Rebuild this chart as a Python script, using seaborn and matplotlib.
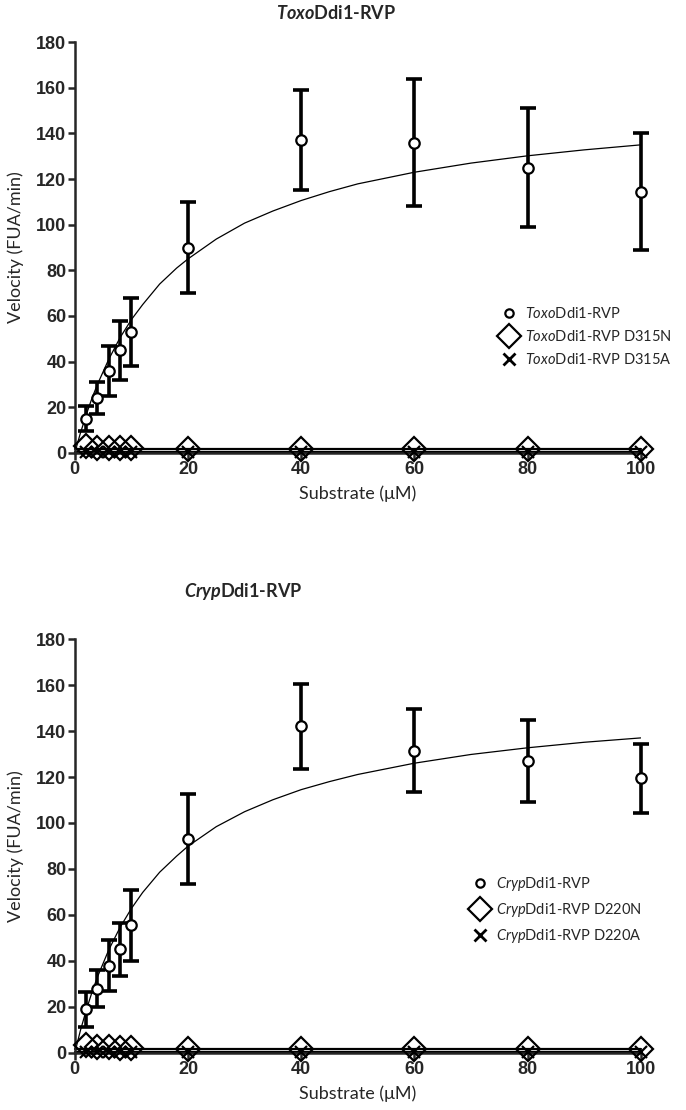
import numpy as np
import pandas as pd
import seaborn as sns
import matplotlib.pyplot as plt
from matplotlib.lines import Line2D

# substrate concentrations (uM)
substrate = [2, 4, 6, 8, 10, 20, 40, 60, 80, 100]

# Toxo panel
toxo_wt = [15, 24, 36, 45, 53, 90, 137, 136, 125, 114.5]
toxo_wt_err = [5.5, 7, 11, 13, 15, 20, 22, 28, 26, 25.5]
toxo_d315n = [3, 2, 2, 2, 2, 1.5, 1.5, 1.5, 1.5, 1.5]
toxo_d315a = [0.5, 0.5, 0.5, 0.5, 0.5, 0.5, 0.5, 0.5, 0.5, 0.5]

# Cryp panel
cryp_wt = [19, 28, 38, 45, 55.5, 93, 142, 131.5, 127, 119.5]
cryp_wt_err = [7.5, 8, 11, 11.5, 15.5, 19.5, 18.5, 18, 18, 15]
cryp_d220n = [3.5, 2.5, 2.5, 2, 2, 1.5, 1.5, 1.5, 1.5, 1.5]
cryp_d220a = [0.5, 0.5, 0.5, 0.5, 0.5, 0.5, 0.5, 0.5, 0.5, 0.5]

# fitted curves
fit_x = [0, 1, 2, 3, 4, 6, 8, 10, 12, 15, 18, 20, 25, 30, 35, 40, 45, 50, 60, 70, 80, 90, 100]
toxo_fit = [0, 8.7, 16.5, 23.7, 30, 41, 50.5, 58.4, 65, 74, 81, 85, 93.7, 100.7, 106, 110.6,
            114.5, 117.9, 123, 127, 130.2, 132.8, 135]
cryp_fit = [0, 9.8, 18.4, 26.1, 33, 44.8, 54.6, 62.8, 69.8, 78.6, 85.6, 89.9, 98.4, 104.9, 110.1,
            114.5, 118, 121.1, 126, 129.8, 132.7, 135.1, 137]
toxo_mut_fit = [1.5, 0.2]
cryp_mut_fit = [1.8, 0.2]

sns.set_style("ticks")
plt.rcParams["font.family"] = ["Lato", "DejaVu Sans"]
plt.rcParams["mathtext.fontset"] = "custom"
plt.rcParams["mathtext.it"] = "Lato:italic"
plt.rcParams["mathtext.rm"] = "Lato"
plt.rcParams["mathtext.bfit"] = "Lato:italic:bold"
plt.rcParams["mathtext.bf"] = "Lato:bold"

fig = plt.figure(figsize=(6.86, 11.1), dpi=100)
ax1 = fig.add_axes([0.109, 0.592, 0.825, 0.370])
ax2 = fig.add_axes([0.109, 0.0514, 0.825, 0.3729])


def draw_panel(ax, wt, err, mut_n, mut_a, fit, mut_fit, title, title_x, title_y, labels, leg_pos):
    df_fit = pd.DataFrame({"x": fit_x, "y": fit})
    sns.lineplot(data=df_fit, x="x", y="y", ax=ax, color="black", lw=0.9, zorder=2)
    for lvl in mut_fit:
        ax.plot([0, 100], [lvl, lvl], color="black", lw=1.6, zorder=2, clip_on=False)
    ax.errorbar(substrate, wt, yerr=err, fmt="none", ecolor="black",
                elinewidth=2.6, capsize=5.5, capthick=2.6, zorder=3, clip_on=False)
    ax.plot(substrate, wt, "o", ms=7.5, mfc="white", mec="black", mew=1.6, zorder=4, clip_on=False)
    ax.plot(substrate, mut_n, "D", ms=12.5, mfc="none", mec="black", mew=1.6, zorder=4, clip_on=False)
    ax.plot(substrate, mut_a, "x", ms=8, mec="black", mew=1.6, zorder=4, clip_on=False)

    ax.set_xlim(0, 100)
    ax.set_ylim(0, 180)
    ax.set_xticks([0, 20, 40, 60, 80, 100])
    ax.set_yticks(range(0, 181, 20))
    sns.despine(ax=ax)
    for s in ["left", "bottom"]:
        ax.spines[s].set_linewidth(1.8)
    ax.tick_params(width=1.8, length=5, direction="out", pad=1)
    for t in ax.get_xticklabels() + ax.get_yticklabels():
        t.set_fontfamily(["Liberation Sans Narrow", "Liberation Sans"])
        t.set_fontweight("bold")
        t.set_fontsize(13)
    ax.set_xlabel("Substrate (\u03bcM)", fontsize=13, labelpad=5)
    ax.set_ylabel("Velocity (FUA/min)", fontsize=13, labelpad=9)

    fig.text(title_x, title_y, title, ha="center", va="center", fontsize=13, fontweight="bold")

    handles = [
        Line2D([], [], ls="none", marker="o", ms=6, mfc="white", mec="black", mew=1.6),
        Line2D([], [], ls="none", marker="D", ms=12, mfc="none", mec="black", mew=1.6),
        Line2D([], [], ls="none", marker="x", ms=8, mec="black", mew=2),
    ]
    ax.legend(handles, labels, loc="center left", bbox_to_anchor=leg_pos,
              bbox_transform=fig.transFigure, frameon=False, fontsize=10.5,
              handlelength=1.2, handletextpad=0.5, labelspacing=0.55)


draw_panel(ax1, toxo_wt, toxo_wt_err, toxo_d315n, toxo_d315a, toxo_fit, toxo_mut_fit,
           r"$\mathbfit{Toxo}$Ddi1-RVP", 0.49, 0.988,
           [r"$\mathit{Toxo}$Ddi1-RVP", r"$\mathit{Toxo}$Ddi1-RVP D315N", r"$\mathit{Toxo}$Ddi1-RVP D315A"],
           (0.71, 0.697))
draw_panel(ax2, cryp_wt, cryp_wt_err, cryp_d220n, cryp_d220a, cryp_fit, cryp_mut_fit,
           r"$\mathbfit{Cryp}$Ddi1-RVP", 0.355, 0.467,
           [r"$\mathit{Cryp}$Ddi1-RVP", r"$\mathit{Cryp}$Ddi1-RVP D220N", r"$\mathit{Cryp}$Ddi1-RVP D220A"],
           (0.668, 0.18))

fig.savefig("out.png", dpi=100)
